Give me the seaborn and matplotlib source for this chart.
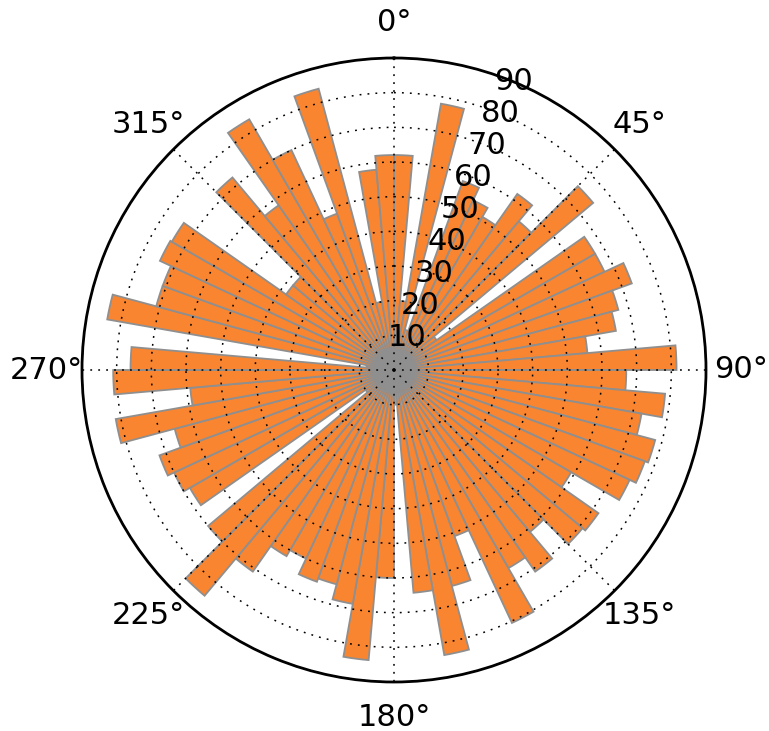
import numpy as np
import matplotlib
matplotlib.use("Agg")
import matplotlib.pyplot as plt
import seaborn as sns
import pandas as pd

# ---- data ----
bin_start_deg = [0, 5, 10, 15, 20, 25, 30, 35, 40, 45, 50, 55,
                 60, 65, 70, 75, 80, 85, 90, 95, 100, 105, 110, 115,
                 120, 125, 130, 135, 140, 145, 150, 155, 160, 165, 170, 175,
                 180, 185, 190, 195, 200, 205, 210, 215, 220, 225, 230, 235,
                 240, 245, 250, 255, 260, 265, 270, 275, 280, 285, 290, 295,
                 300, 305, 310, 315, 320, 325, 330, 335, 340, 345, 350, 355]
bin_width_deg = 5
radii = [62, 20, 78, 12, 58, 54, 51, 62, 56, 75, 15, 67,
         67, 73, 67, 65, 56, 81.5, 67, 78.5, 72.5, 78, 77, 75,
         59, 72, 71, 61, 71, 66, 80.5, 51, 64.5, 83.5, 64.5, 10,
         60, 84, 68.5, 64, 65, 60, 62, 71, 85, 70, 10, 68,
         70, 72, 65.5, 81.5, 59, 81, 76, 8, 84, 71, 71, 74.5,
         74, 38, 38, 72.5, 58, 83.5, 70, 48, 84, 20, 58, 62]
r_ticks = [10, 20, 30, 40, 50, 60, 70, 80, 90]
r_tick_labels = ["10", "20", "30", "40", "50", "60", "70", "80", "90"]
theta_ticks_deg = [0, 45, 90, 135, 180, 225, 270, 315]
theta_tick_labels = ["0°", "45°", "90°", "135°", "180°", "225°", "270°", "315°"]

sns.set_theme(style="white")
plt.rcParams["font.family"] = ["DejaVu Sans"]

df = pd.DataFrame({"theta": np.deg2rad(bin_start_deg), "r": radii})

W, H = 769, 731
fig = plt.figure(figsize=(W / 100, H / 100), dpi=100)
fig.patch.set_facecolor("white")
ax = fig.add_axes([82 / W, (H - 682) / H, 624 / W, 624 / H], projection="polar")
ax.set_facecolor("white")
ax.set_theta_zero_location("N")
ax.set_theta_direction(-1)

ax.bar(df["theta"], df["r"], width=np.deg2rad(bin_width_deg), align="edge",
       color="#f98530", edgecolor="#8f8f8f", linewidth=1.3)

ax.set_ylim(0, 90)
ax.set_yticks(r_ticks)
ax.set_yticklabels(r_tick_labels)
ax.set_rlabel_position(22.5)
ax.set_xticks(np.deg2rad(theta_ticks_deg))
ax.set_xticklabels(theta_tick_labels)
ax.tick_params(axis="both", labelsize=22, colors="black")
ax.tick_params(axis="x", pad=12.5)
for lab in ax.get_yticklabels():
    lab.set_ha("center")
    lab.set_va("center")

ax.grid(True, color="black", linestyle=(0, (1.2, 4)), linewidth=1.1)
ax.set_axisbelow(False)
ax.spines["polar"].set_linewidth(2)
ax.spines["polar"].set_color("black")

fig.savefig("out.png", dpi=100, facecolor="white")
